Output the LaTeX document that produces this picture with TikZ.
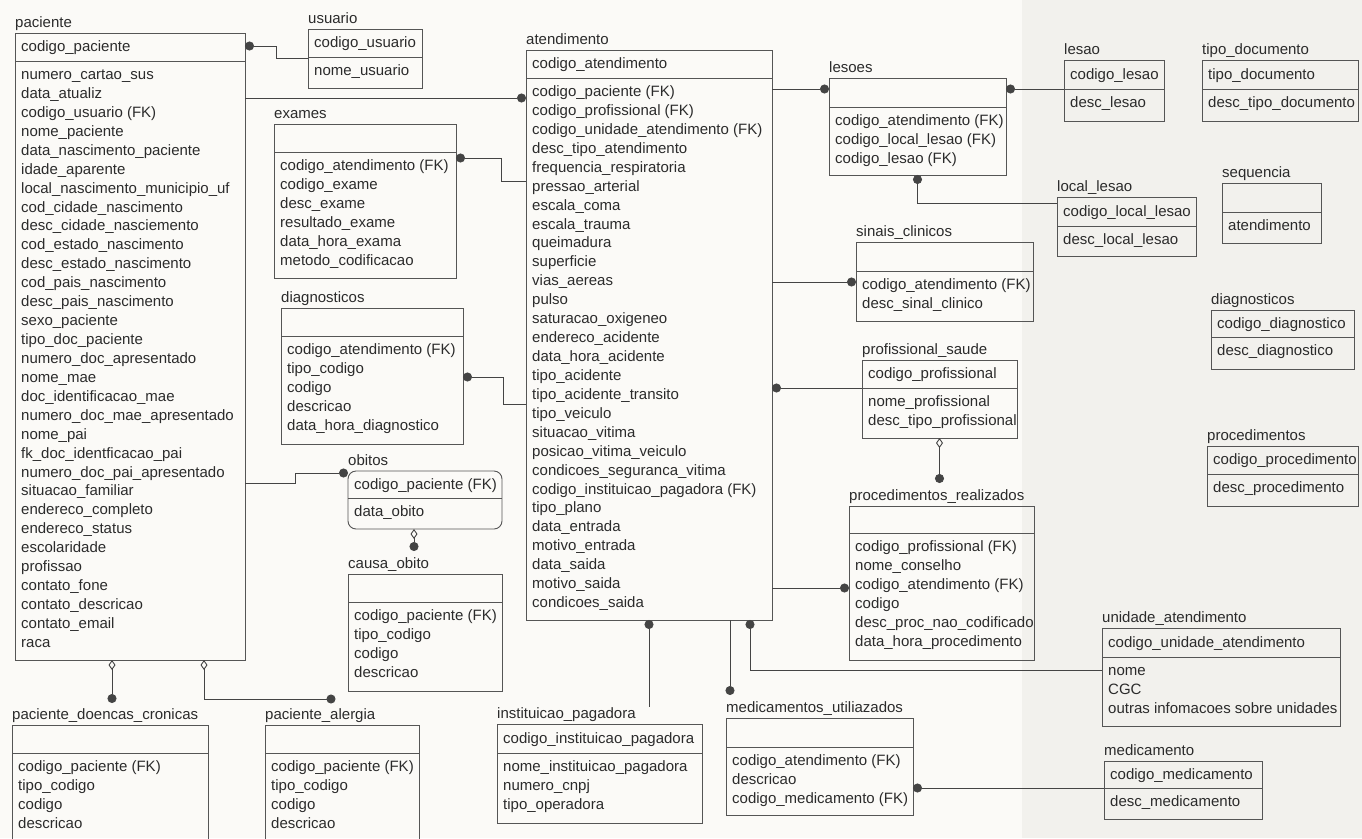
\documentclass[tikz,border=0pt]{standalone}
\usepackage{fontspec}
\setmainfont{Liberation Sans}
\usetikzlibrary{arrows.meta}
\definecolor{bg}{HTML}{FBFAF7}
\definecolor{bgr}{HTML}{F2F1ED}
\definecolor{ink}{HTML}{2B2B2B}
\definecolor{edgec}{HTML}{555555}
\definecolor{wire}{HTML}{444444}

\newcommand\ertab[9]{%
  \node[tbox, minimum width={#4-#2}, minimum height={#6-#3}] (#1) at ({(#2+#4)/2},{(#3+#6)/2}) {};
  \draw[tline] (#1.west |- 0,#5) -- (#1.east |- 0,#5);
  \node[ttl] (#1-t) at (#2,#3-6) {#7};
  \if\relax\detokenize{#8}\relax\else
    \node[txt] (#1-k) at (#2+6,{(#3+#5)/2+4.5}) {#8};
  \fi
  \foreach \t [count=\i from 0] in {#9} {\node[txt] (#1-a\i) at (#2+6,#5+18.5+\i*18.93) {\t};}
}

\begin{document}
\begin{tikzpicture}[x=1pt,y=-1pt,
  tboxextra/.style={},
  tbox/.style={draw=edgec, line width=0.9pt, inner sep=0pt, outer sep=0pt, tboxextra},
  tline/.style={draw=edgec, line width=0.8pt},
  txt/.style={anchor=base west, inner sep=0pt, text=ink, font=\fontsize{15}{18}\selectfont},
  ttl/.style={txt},
  conn/.style={draw=wire, line width=0.9pt},
  dotS/.style={{Circle[length=9pt]}-},
  dotE/.style={-{Circle[length=9pt]}},
  dmdot/.style={{Diamond[open,length=10pt,width=7pt]}-{Circle[length=9pt]}}
]
\useasboundingbox (0,0) rectangle (1362,838);
\fill[bg] (0,0) rectangle (1362,838);
\fill[bgr] (1022,0) rectangle (1362,838);
\clip (0,0) rectangle (1362,838);

% ---------- tables ----------
\ertab{pac}{15}{33}{245}{61}{660}{paciente}{codigo\_paciente}{numero\_cartao\_sus, data\_atualiz, codigo\_usuario (FK), nome\_paciente, data\_nascimento\_paciente, idade\_aparente, local\_nascimento\_municipio\_uf, cod\_cidade\_nascimento, desc\_cidade\_nasciemento, cod\_estado\_nascimento, desc\_estado\_nascimento, cod\_pais\_nascimento, desc\_pais\_nascimento, sexo\_paciente, tipo\_doc\_paciente, numero\_doc\_apresentado, nome\_mae, doc\_identificacao\_mae, numero\_doc\_mae\_apresentado, nome\_pai, fk\_doc\_identficacao\_pai, numero\_doc\_pai\_apresentado, situacao\_familiar, endereco\_completo, endereco\_status, escolaridade, profissao, contato\_fone, contato\_descricao, contato\_email, raca}

\ertab{usu}{308}{29}{422}{57}{88}{usuario}{codigo\_usuario}{nome\_usuario}

\ertab{exa}{274}{124}{456}{152}{278}{exames}{}{codigo\_atendimento (FK), codigo\_exame, desc\_exame, resultado\_exame, data\_hora\_exama, metodo\_codificacao}

\ertab{dgl}{281}{308}{463}{336}{444}{diagnosticos}{}{codigo\_atendimento (FK), tipo\_codigo, codigo, descricao, data\_hora\_diagnostico}

\begin{scope}[tboxextra/.style={rounded corners=8pt}]
\ertab{obi}{348}{471}{502}{498}{529}{obitos}{codigo\_paciente (FK)}{data\_obito}
\end{scope}

\ertab{cob}{348}{574}{502}{602}{691}{causa\_obito}{}{codigo\_paciente (FK), tipo\_codigo, codigo, descricao}

\ertab{pdc}{12}{725}{208}{753}{845}{paciente\_doencas\_cronicas}{}{codigo\_paciente (FK), tipo\_codigo, codigo, descricao}

\ertab{pal}{265}{725}{419}{753}{845}{paciente\_alergia}{}{codigo\_paciente (FK), tipo\_codigo, codigo, descricao}

\ertab{ate}{526}{50}{772}{78}{620}{atendimento}{codigo\_atendimento}{codigo\_paciente (FK), codigo\_profissional (FK), codigo\_unidade\_atendimento (FK), desc\_tipo\_atendimento, frequencia\_respiratoria, pressao\_arterial, escala\_coma, escala\_trauma, queimadura, superficie, vias\_aereas, pulso, saturacao\_oxigeneo, endereco\_acidente, data\_hora\_acidente, tipo\_acidente, tipo\_acidente\_transito, tipo\_veiculo, situacao\_vitima, posicao\_vitima\_veiculo, condicoes\_seguranca\_vitima, codigo\_instituicao\_pagadora (FK), tipo\_plano, data\_entrada, motivo\_entrada, data\_saida, motivo\_saida, condicoes\_saida}

\ertab{ins}{497}{724}{702}{753}{823}{instituicao\_pagadora}{codigo\_instituicao\_pagadora}{nome\_instituicao\_pagadora, numero\_cnpj, tipo\_operadora}

\ertab{medu}{726}{718}{913}{747}{815}{medicamentos\_utiliazados}{}{codigo\_atendimento (FK), descricao, codigo\_medicamento (FK)}

\ertab{les}{829}{78}{1006}{107}{175}{lesoes}{}{codigo\_atendimento (FK), codigo\_local\_lesao (FK), codigo\_lesao (FK)}

\ertab{lsa}{1064}{60}{1164}{89}{121}{lesao}{codigo\_lesao}{desc\_lesao}

\ertab{tdo}{1202}{60}{1358}{89}{121}{tipo\_documento}{tipo\_documento}{desc\_tipo\_documento}

\ertab{llo}{1057}{197}{1196}{226}{256}{local\_lesao}{codigo\_local\_lesao}{desc\_local\_lesao}

\ertab{seq}{1222}{183}{1321}{212}{243}{sequencia}{}{atendimento}

\ertab{sin}{856}{242}{1033}{271}{321}{sinais\_clinicos}{}{codigo\_atendimento (FK), desc\_sinal\_clinico}

\ertab{dgr}{1211}{310}{1354}{337}{369}{diagnosticos}{codigo\_diagnostico}{desc\_diagnostico}

\ertab{pro}{862}{360}{1017}{388}{438}{profissional\_saude}{codigo\_profissional}{nome\_profissional, desc\_tipo\_profissional}

\ertab{prr}{849}{506}{1034}{533}{660}{procedimentos\_realizados}{}{codigo\_profissional (FK), nome\_conselho, codigo\_atendimento (FK), codigo, desc\_proc\_nao\_codificado, data\_hora\_procedimento}

\ertab{prc}{1207}{446}{1358}{474}{506}{procedimentos}{codigo\_procedimento}{desc\_procedimento}

\ertab{uni}{1102}{628}{1340}{657}{726}{unidade\_atendimento}{codigo\_unidade\_atendimento}{nome, CGC, outras infomacoes sobre unidades}

\ertab{med}{1104}{761}{1262}{788}{819}{medicamento}{codigo\_medicamento}{desc\_medicamento}

% ---------- connectors ----------
\draw[conn,dotS] ([yshift=-13pt]pac.north east) -- ++(31,0) |- (usu.west);
\draw[conn,dotE] ([yshift=-65pt]pac.north east) -- ([yshift=-48pt]ate.north west);
\draw[conn,dotS] ([yshift=-34pt]exa.north east) -- ++(45,0) |- ([yshift=-131pt]ate.north west);
\draw[conn,dotS] ([yshift=-69pt]dgl.north east) -- ++(40,0) |- ([yshift=-354pt]ate.north west);
\draw[conn,dotE] ([yshift=-450pt]pac.north east) -- ++(50,0) |- ([yshift=-2pt]obi.north west);
\draw[conn,dmdot] ([xshift=-11pt]obi.south) -- ++(0,22);
\draw[conn,dmdot] ([xshift=-18pt]pac.south) -- ++(0,43);
\draw[conn,dmdot] ([xshift=74pt]pac.south) |- ++(131.5,39);
\draw[conn,dotS] (ate.south) -- (ate.south |- ins-t.north);
\draw[conn,dotE] ([xshift=-42pt]ate.south east) -- ++(0,75);
\draw[conn,dotS] ([xshift=-22pt]ate.south east) |- ([yshift=-42pt]uni.north west);
\draw[conn,dotE] ([yshift=-39pt]ate.north east) -- ([yshift=-11pt]les.north west);
\draw[conn,dotS] ([yshift=-11pt]les.north east) -- ([yshift=-29pt]lsa.north west);
\draw[conn,dotS] (les.south) |- ([yshift=-6pt]llo.north west);
\draw[conn,dotE] ([yshift=-232pt]ate.north east) -- ([yshift=-40pt]sin.north west);
\draw[conn,dotS] ([yshift=-338pt]ate.north east) -- ([yshift=-28pt]pro.north west);
\draw[conn,dmdot] (pro.south) -- ++(0,45);
\draw[conn,dotE] ([yshift=-538pt]ate.north east) -- ([yshift=-82pt]prr.north west);
\draw[conn,dotS] ([yshift=-70pt]medu.north east) -- ([yshift=-27pt]med.north west);
\end{tikzpicture}
\end{document}
